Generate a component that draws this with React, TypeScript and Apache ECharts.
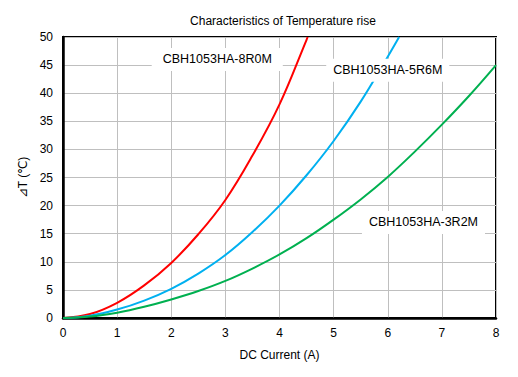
import React, { useEffect, useRef } from "react";
import * as echarts from "echarts";

const chartTitle = "Characteristics of Temperature rise";
const xName = "DC Current (A)";
const yName = "⊿T (℃)";

const redX = [0, 0.5, 1, 1.5, 2, 2.5, 3, 3.5, 4, 4.5, 4.52];
const redY = [0, 0.7, 2.7, 5.8, 9.8, 14.9, 21.0, 28.9, 38.0, 49.5, 50];
const blueX = [0, 0.5, 1, 1.5, 2, 2.5, 3, 3.5, 4, 4.5, 5, 5.5, 6, 6.21];
const blueY = [0, 0.4, 1.5, 3.1, 5.2, 7.9, 11.2, 15.3, 20.0, 25.4, 31.5, 38.5, 46.5, 50];
const greenX = [0, 0.5, 1, 1.5, 2, 2.5, 3, 3.5, 4, 4.5, 5, 5.5, 6, 6.5, 7, 7.5, 8];
const greenY = [0, 0.25, 0.95, 2.0, 3.3, 4.8, 6.6, 8.8, 11.3, 14.2, 17.5, 21.1, 25.1, 29.6, 34.4, 39.5, 45.0];

const seriesNames = ["CBH1053HA-8R0M", "CBH1053HA-5R6M", "CBH1053HA-3R2M"];
const seriesColors = ["#ff0000", "#00b0f0", "#00b050"];
const labelPos: [number, number][] = [
  [2.85, 46.0],
  [6.0, 44.1],
  [6.66, 17.0],
];

const zip = (xs: number[], ys: number[]) => xs.map((x, i) => [x, ys[i]]);

export default function App() {
  const ref = useRef<HTMLDivElement>(null);
  useEffect(() => {
    document.body.style.margin = "0";
    if (!ref.current) return;
    const chart = echarts.init(ref.current, undefined, { renderer: "svg" });
    const font = "Liberation Sans, Arial, sans-serif";
    const datasets = [zip(redX, redY), zip(blueX, blueY), zip(greenX, greenY)];
    chart.setOption({
      animation: false,
      backgroundColor: "#ffffff",
      textStyle: { fontFamily: font },
      title: {
        text: chartTitle,
        left: 278,
        textAlign: "center",
        top: 10,
        textStyle: { fontSize: 12, fontWeight: "normal", color: "#000", fontFamily: font },
      },
      grid: {
        left: 63,
        right: 22,
        top: 37,
        bottom: 59,
        show: true,
        borderColor: "#000",
        borderWidth: 2,
      },
      xAxis: {
        type: "value",
        min: 0,
        max: 8,
        interval: 1,
        name: xName,
        nameLocation: "middle",
        nameGap: 31,
        nameTextStyle: { fontSize: 12, color: "#000", fontFamily: font },
        axisLine: { show: true, lineStyle: { color: "#000", width: 2.5 } },
        axisTick: { show: false },
        axisLabel: { fontSize: 12, color: "#000", margin: 9, fontFamily: font },
        splitLine: { show: true, lineStyle: { color: "#bfbfbf", width: 1 } },
      },
      yAxis: {
        type: "value",
        min: 0,
        max: 50,
        interval: 5,
        name: yName,
        nameLocation: "middle",
        nameGap: 34,
        nameRotate: 90,
        nameTextStyle: { fontSize: 12, color: "#000", fontFamily: font },
        axisLine: { show: true, lineStyle: { color: "#000", width: 2.5 } },
        axisTick: { show: false },
        axisLabel: { fontSize: 12, color: "#000", margin: 10, fontFamily: font },
        splitLine: { show: true, lineStyle: { color: "#bfbfbf", width: 1 } },
      },
      series: datasets.map((d, i) => ({
        name: seriesNames[i],
        type: "line",
        data: d,
        smooth: 0.4,
        showSymbol: false,
        symbol: "none",
        lineStyle: { color: seriesColors[i], width: 2 },
        z: 3,
        markPoint: {
          symbol: "rect",
          symbolSize: 0,
          silent: true,
          data: [
            {
              coord: labelPos[i],
              label: {
                show: true,
                formatter: seriesNames[i],
                position: "inside",
                color: "#000",
                fontSize: 12.5,
                fontFamily: font,
                backgroundColor: "#ffffff",
                padding: i === 0 ? [5, 11] : [5, 7],
              },
            },
          ],
        },
      })),
    });
    return () => chart.dispose();
  }, []);
  return <div ref={ref} style={{ width: 518, height: 377 }} />;
}
